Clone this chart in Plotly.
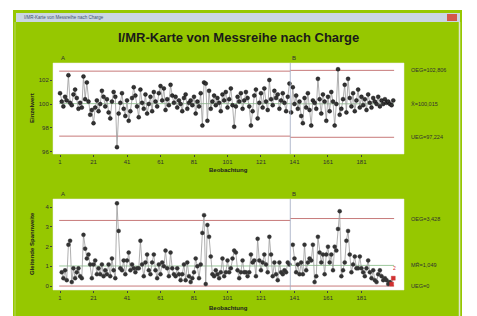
import plotly.graph_objects as go

W, H = 477, 316

# ---------------- data ----------------
messreihe = [
    100.9, 100.2, 99.8, 100.6, 100.3, 102.4, 100.1, 99.9, 100.8, 101.2,
    100.5, 99.6, 100.1, 99.7, 102.3, 100.4, 101.8, 100.2, 99.1, 99.5,
    98.4, 99.7, 100.3, 99.4, 100.0, 101.1, 100.6, 99.8, 100.4, 99.3,
    98.8, 100.2, 101.0, 100.6, 96.4, 99.2, 100.1, 100.9, 99.6, 99.0,
    100.3, 98.6, 99.4, 100.5, 101.4, 100.7, 99.8, 98.9, 101.2, 100.1,
    99.6, 100.8, 99.2, 100.0, 100.6, 99.4, 101.0, 100.2, 99.8, 100.9,
    101.5, 100.3, 101.3, 99.5, 100.4, 99.9, 101.6, 100.7, 100.1, 100.6,
    99.7, 100.3, 100.0, 99.4, 100.5, 100.8, 99.6, 100.1, 100.3, 99.9,
    100.6, 99.2, 100.2, 99.8, 100.9, 98.2, 101.8, 101.7, 98.6, 101.1,
    99.6, 100.2, 100.7, 99.9, 100.5, 100.1, 99.4, 100.8, 100.3, 101.0,
    99.7, 100.4, 101.3, 99.9, 98.1, 99.8, 100.6, 100.2, 100.9, 99.6,
    100.3, 101.0, 100.5, 99.8, 98.2, 99.4, 100.7, 101.2, 98.8, 100.1,
    100.9, 99.7, 101.3, 100.2, 99.5, 102.0, 100.4, 99.9, 101.1, 100.5,
    100.8, 99.6, 100.3, 100.9, 100.1, 99.4, 100.6, 101.7, 99.3, 101.4,
    100.0, 100.7, 99.6, 100.2, 99.0, 98.4, 100.5, 99.7, 100.9, 99.5,
    98.2, 100.3, 100.1, 99.6, 102.1, 100.4, 99.2, 100.8, 100.2, 98.6,
    100.6, 99.4, 101.0, 100.2, 98.2, 100.0, 102.9, 99.1, 99.6, 100.4,
    101.6, 99.3, 102.1, 100.5, 99.8, 100.9, 99.4, 100.3, 101.2, 99.7,
    100.6, 99.9, 100.4, 99.5, 100.8, 100.1, 99.7, 100.5, 100.2, 100.0,
    100.6, 99.8, 100.3, 100.0, 100.4, 100.1, 100.2, 100.0, 99.9, 100.3,
]
charge_names = ["A", "B"]
charge_start = [1, 139]          # first observation of each charge
charge_end = [138, 200]          # last observation of each charge

# control limits per charge (Einzelwert)
i_ucl = [102.74, 102.806]
i_cl = [100.03, 100.015]
i_lcl = [97.32, 97.224]
# control limits per charge (Gleitende Spannweite)
mr_ucl = [3.332, 3.428]
mr_cl = [1.020, 1.049]
mr_lcl = [0.0, 0.0]

i_labels = ["OEG=102,806", "X\u0304=100,015", "UEG=97,224"]
mr_labels = ["OEG=3,428", "MR\u0304=1,049", "UEG=0"]

x_ticks = [1, 21, 41, 61, 81, 101, 121, 141, 161, 181]
i_ticks = [96, 98, 100, 102]
mr_ticks = [0, 1, 2, 3, 4]
mr_flagged = [199, 200]

title = "I/MR-Karte von Messreihe nach Charge"

# ---------------- helpers ----------------
def px(x):
    return x / W

def py(y):
    return 1 - y / H

GREEN = "#96c800"
FONT = "Liberation Sans, Arial, sans-serif"

fig = go.Figure()

# moving ranges inside each charge
obs = list(range(1, len(messreihe) + 1))
mr_x, mr_y = [], []
for s, e in zip(charge_start, charge_end):
    for k in range(s + 1, e + 1):
        mr_x.append(k)
        mr_y.append(abs(messreihe[k - 1] - messreihe[k - 2]))

for ci, (s, e) in enumerate(zip(charge_start, charge_end)):
    xs = obs[s - 1:e]
    ys = messreihe[s - 1:e]
    for val, col in [(i_ucl[ci], "#c77a7a"), (i_lcl[ci], "#c77a7a"), (i_cl[ci], "#9cc89c")]:
        fig.add_trace(go.Scatter(x=[s - 0.5, e + 0.5], y=[val, val], mode="lines",
                                 line=dict(color=col, width=1), xaxis="x", yaxis="y",
                                 hoverinfo="skip", showlegend=False))
    for val, col in [(mr_ucl[ci], "#c77a7a"), (mr_lcl[ci], "#c77a7a"), (mr_cl[ci], "#9cc89c")]:
        fig.add_trace(go.Scatter(x=[s - 0.5, e + 0.5], y=[val, val], mode="lines",
                                 line=dict(color=col, width=1), xaxis="x2", yaxis="y2",
                                 hoverinfo="skip", showlegend=False))
    fig.add_trace(go.Scatter(x=xs, y=ys, mode="lines+markers",
                             line=dict(color="#9a9a9a", width=0.8),
                             marker=dict(size=4, color="#333333", line=dict(color="#000", width=0.4)),
                             xaxis="x", yaxis="y", showlegend=False))
    mx = [x for x in mr_x if s < x <= e]
    my = [mr_y[mr_x.index(x)] for x in mx]
    colors = ["#d03030" if x in mr_flagged else "#333333" for x in mx]
    symbols = ["square" if x in mr_flagged else "circle" for x in mx]
    fig.add_trace(go.Scatter(x=mx, y=my, mode="lines+markers",
                             line=dict(color="#9a9a9a", width=0.8),
                             marker=dict(size=4, color=colors, symbol=symbols,
                                         line=dict(color=colors, width=0.4)),
                             xaxis="x2", yaxis="y2", showlegend=False))

# stage divider lines
for s in charge_start[1:]:
    for xa, ya, lo, hi in [("x", "y", 95.0, 104.0), ("x2", "y2", -1, 5)]:
        fig.add_trace(go.Scatter(x=[s - 0.5, s - 0.5], y=[lo, hi], mode="lines",
                                 line=dict(color="#a0a8c0", width=0.8), xaxis=xa, yaxis=ya,
                                 hoverinfo="skip", showlegend=False))

xr = [-3.2, 206.4]
tickfont = dict(family=FONT, size=6, color="#303030")
axcommon = dict(showgrid=False, zeroline=False, showline=False, ticks="outside",
                ticklen=2, tickcolor="#404040", tickfont=tickfont)
fig.update_layout(
    width=W, height=H, margin=dict(l=0, r=0, t=0, b=0),
    paper_bgcolor="white", plot_bgcolor="rgba(0,0,0,0)",
    xaxis=dict(domain=[px(53), px(404)], range=xr, anchor="y", tickvals=x_ticks, **axcommon),
    yaxis=dict(domain=[py(154), py(63)], range=[95.83, 103.42], anchor="x",
               tickvals=i_ticks, **axcommon),
    xaxis2=dict(domain=[px(53), px(404)], range=xr, anchor="y2", tickvals=x_ticks, **axcommon),
    yaxis2=dict(domain=[py(290), py(199)], range=[-0.2, 4.42], anchor="x2",
                tickvals=mr_ticks, **axcommon),
    font=dict(family=FONT),
)

shapes = []
shapes.append(dict(type="rect", xref="paper", yref="paper", x0=px(13), x1=px(462),
                   y0=py(316), y1=py(10), fillcolor=GREEN, line=dict(width=0), layer="below"))
shapes.append(dict(type="rect", xref="paper", yref="paper", x0=px(16), x1=px(460),
                   y0=py(22), y1=py(13), fillcolor="#cad6e2", line=dict(width=0), layer="below"))
shapes.append(dict(type="rect", xref="paper", yref="paper", x0=px(447), x1=px(457),
                   y0=py(21), y1=py(14), fillcolor="#d4574a", line=dict(width=0), layer="below"))
shapes.append(dict(type="line", xref="paper", yref="paper", x0=px(459.5), x1=px(459.5),
                   y0=py(316), y1=py(22), line=dict(color="#dfe6cf", width=1.5), layer="below"))
shapes.append(dict(type="line", xref="paper", yref="paper", x0=px(15), x1=px(15),
                   y0=py(316), y1=py(22), line=dict(color="#b8d860", width=1), layer="below"))
for (x0, x1, y0, y1) in [(53, 404, 63, 154), (53, 404, 199, 290)]:
    shapes.append(dict(type="rect", xref="paper", yref="paper", x0=px(x0), x1=px(x1),
                       y0=py(y1), y1=py(y0), fillcolor="white",
                       line=dict(color="#e8e8e8", width=0.5), layer="below"))
fig.update_layout(shapes=shapes)

ann = []
ann.append(dict(text="<b>" + title + "</b>", x=px(238), y=py(38), xref="paper", yref="paper",
                yanchor="middle", showarrow=False, font=dict(family=FONT, size=13, color="#1a1a1a")))
ann.append(dict(text=title, x=px(22), y=py(17.5), xref="paper", yref="paper", xanchor="left",
                yanchor="middle", showarrow=False, font=dict(family=FONT, size=4.5, color="#405070")))
for yc in [170, 308]:
    ann.append(dict(text="<b>Beobachtung</b>", x=px(228), y=py(yc), xref="paper", yref="paper",
                    yanchor="middle", showarrow=False, font=dict(family=FONT, size=6, color="#202020")))
ann.append(dict(text="<b>Einzelwert</b>", x=px(27), y=py(108), xref="paper", yref="paper",
                yanchor="middle", textangle=-90, showarrow=False,
                font=dict(family=FONT, size=6, color="#202020")))
ann.append(dict(text="<b>Gleitende Spannweite</b>", x=px(27), y=py(244), xref="paper", yref="paper",
                yanchor="middle", textangle=-90, showarrow=False,
                font=dict(family=FONT, size=6, color="#202020")))
for lab, val in zip(i_labels, [i_ucl[-1], i_cl[-1], i_lcl[-1]]):
    ann.append(dict(text=lab, x=xr[1], y=val, xref="x", yref="y", xanchor="left", yanchor="middle",
                    xshift=5, showarrow=False, font=dict(family=FONT, size=5.5, color="#303030")))
for lab, val in zip(mr_labels, [mr_ucl[-1], mr_cl[-1], mr_lcl[-1]]):
    ann.append(dict(text=lab, x=xr[1], y=val, xref="x2", yref="y2", xanchor="left", yanchor="middle",
                    xshift=5, showarrow=False, font=dict(family=FONT, size=5.5, color="#303030")))
for name, s in zip(charge_names, charge_start):
    ann.append(dict(text=name, x=s + 2, y=103.42, xref="x", yref="y", yanchor="bottom",
                    showarrow=False, font=dict(family=FONT, size=6, color="#303030")))
    ann.append(dict(text=name, x=s + 2, y=4.42, xref="x2", yref="y2", yanchor="bottom",
                    showarrow=False, font=dict(family=FONT, size=6, color="#303030")))
ann.append(dict(text="2", x=mr_flagged[-1] + 1, y=0.9, xref="x2", yref="y2", yanchor="middle",
                showarrow=False, font=dict(family=FONT, size=5, color="#d03030")))
fig.update_layout(annotations=ann)

fig.write_html("out.html", config={"displayModeBar": False},
               post_script="document.body.style.margin='0';document.body.style.overflow='hidden';")
